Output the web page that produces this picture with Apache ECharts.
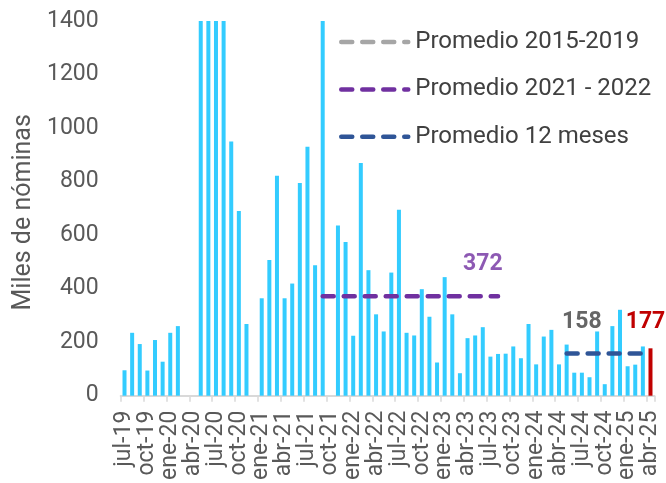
<!DOCTYPE html>
<html>
<head>
<meta charset="utf-8">
<script src="https://cdn.jsdelivr.net/npm/echarts@6/dist/echarts.min.js"></script>
<style>
html,body{margin:0;padding:0;background:#fff;}
#chart{width:666px;height:483px;}
</style>
</head>
<body>
<div id="chart"></div>
<script>
const categories = [
  'jul-19','ago-19','sep-19','oct-19','nov-19','dic-19',
  'ene-20','feb-20','mar-20','abr-20','may-20','jun-20','jul-20','ago-20','sep-20','oct-20','nov-20','dic-20',
  'ene-21','feb-21','mar-21','abr-21','may-21','jun-21','jul-21','ago-21','sep-21','oct-21','nov-21','dic-21',
  'ene-22','feb-22','mar-22','abr-22','may-22','jun-22','jul-22','ago-22','sep-22','oct-22','nov-22','dic-22',
  'ene-23','feb-23','mar-23','abr-23','may-23','jun-23','jul-23','ago-23','sep-23','oct-23','nov-23','dic-23',
  'ene-24','feb-24','mar-24','abr-24','may-24','jun-24','jul-24','ago-24','sep-24','oct-24','nov-24','dic-24',
  'ene-25','feb-25','mar-25','abr-25'
];
const nominas = [
  95, 235, 193, 94, 208, 127,
  235, 260, -1373, -20500, 2800, 4800, 1700, 1600, 950, 690, 268, -270,
  364, 507, 822, 364, 419, 795, 930, 487, 1500, -50, 636, 574,
  224, 869, 469, 304, 240, 460, 695, 235, 225, 398, 295, 124,
  443, 304, 84, 215, 225, 256, 146, 156, 157, 184, 140, 268,
  117, 221, 246, 117, 191, 86, 86, 69, 240, 43, 260, 321,
  110, 116, 184, 177
];
const promedio2122 = 372;
const promedio2122Rango = ['sep-21', 'ago-23'];
const promedio2122Etiqueta = 'jun-23';
const promedio12m = 158;
const promedio12mRango = ['may-24', 'mar-25'];
const promedio12mEtiqueta = 'jul-24';
const nombres = ['Promedio 2015-2019', 'Promedio 2021 - 2022', 'Promedio 12 meses'];
const colores = ['#A6A6A6', '#7030A0', '#2F5597'];

function rangeLine(value, range) {
  const a = categories.indexOf(range[0]), b = categories.indexOf(range[1]);
  return categories.map((c, i) => (i >= a && i <= b) ? value : null);
}
const lastIdx = categories.length - 1;
const barData = nominas.map((v, i) => i === lastIdx ? {
  value: v,
  itemStyle: { color: '#C00000' },
  label: { show: true, position: 'top', distance: 15, offset: [-5, 0], color: '#C00000',
           fontSize: 23, fontWeight: 'bold', fontFamily: 'Roboto', formatter: '{c}' }
} : v);

const dash = { width: 4.5, type: [11, 10], cap: 'round' };
const FONT = 'Roboto';

const chart = echarts.init(document.getElementById('chart'), null, { renderer: 'canvas' });
chart.setOption({
  animation: false,
  backgroundColor: '#ffffff',
  grid: { left: 120.7, right: 11.7, top: 21, bottom: 84.7 },
  legend: {
    orient: 'vertical',
    left: 334, top: 25,
    itemWidth: 67, itemHeight: 14, itemGap: 23.4,
    itemStyle: { opacity: 0 },
    textStyle: { fontSize: 24, fontFamily: FONT, color: '#404040', lineHeight: 24, padding: [0, 0, 0, 2] },
    data: nombres.map((n, k) => ({ name: n, lineStyle: Object.assign({ color: colores[k] }, dash) }))
  },
  xAxis: {
    type: 'category',
    data: categories,
    boundaryGap: true,
    axisLine: { lineStyle: { color: '#D9D9D9', width: 2 } },
    axisTick: { show: true, interval: 2, length: 6, lineStyle: { color: '#D9D9D9', width: 1.5 } },
    axisLabel: { interval: 2, rotate: 90, margin: 15, fontSize: 23, fontFamily: FONT, color: '#595959' },
    splitLine: { show: false }
  },
  yAxis: {
    type: 'value',
    min: 0, max: 1400, interval: 200,
    name: 'Miles de nóminas',
    nameLocation: 'middle',
    nameGap: 83,
    nameTextStyle: { fontSize: 25, fontFamily: FONT, color: '#595959', padding: [0, 8, 0, 0] },
    axisLine: { show: false },
    axisTick: { show: false },
    splitLine: { show: false },
    axisLabel: { margin: 22, fontSize: 23, fontFamily: FONT, color: '#595959', formatter: v => String(v) }
  },
  series: [
    {
      name: 'Nóminas', type: 'bar', data: barData, barWidth: 4, clip: true,
      itemStyle: { color: '#33CCFF' }
    },
    {
      name: nombres[0], type: 'line', data: categories.map(() => null),
      symbol: 'none', lineStyle: Object.assign({ color: colores[0] }, dash), itemStyle: { color: colores[0] }
    },
    {
      name: nombres[1], type: 'line', data: rangeLine(promedio2122, promedio2122Rango),
      symbol: 'none', lineStyle: Object.assign({ color: colores[1] }, dash), itemStyle: { color: colores[1] }
    },
    {
      name: nombres[2], type: 'line', data: rangeLine(promedio12m, promedio12mRango),
      symbol: 'none', lineStyle: Object.assign({ color: colores[2] }, dash), itemStyle: { color: colores[2] }
    },
    {
      name: 'etiquetas', type: 'scatter', symbolSize: 0,
      data: [
        { value: [promedio2122Etiqueta, promedio2122], label: { color: '#7030A0' } },
        { value: [promedio12mEtiqueta, promedio12m], label: { color: '#404040' } }
      ],
      label: { show: true, position: 'top', distance: 20, fontSize: 23, fontWeight: 'bold', fontFamily: FONT,
               formatter: p => String(p.value[1]) }
    }
  ]
});
</script>
</body>
</html>
